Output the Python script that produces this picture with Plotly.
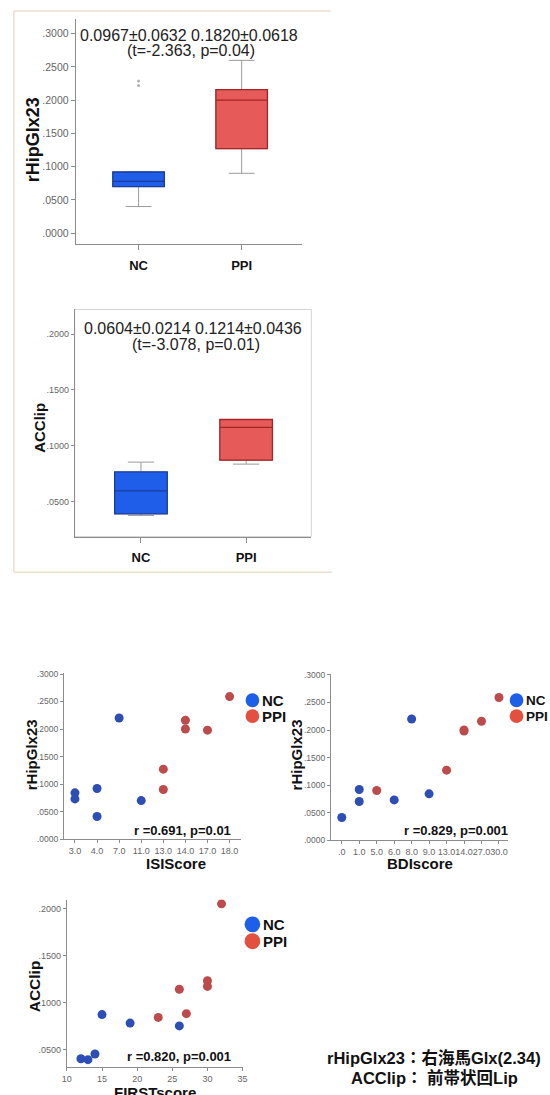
import plotly.graph_objects as go

# ---------------- data ----------------
box_categories = ["NC", "PPI"]

glx_q1 = [0.070, 0.127]
glx_median = [0.078, 0.200]
glx_q3 = [0.092, 0.216]
glx_low = [0.040, 0.090]
glx_high = [0.092, 0.260]
glx_nc_outliers = [0.222, 0.229]

lip_q1 = [0.0393, 0.0872]
lip_median = [0.0598, 0.1165]
lip_q3 = [0.0767, 0.1236]
lip_low = [0.0378, 0.0837]
lip_high = [0.0855, 0.1236]

glx_ticks = [0.0, 0.05, 0.10, 0.15, 0.20, 0.25, 0.30]
glx_ticktext = [".0000", ".0500", ".1000", ".1500", ".2000", ".2500", ".3000"]
lip_ticks = [0.05, 0.10, 0.15, 0.20]
lip_ticktext = [".0500", ".1000", ".1500", ".2000"]

isi_categories = ["3.0", "4.0", "7.0", "11.0", "13.0", "14.0", "17.0", "18.0"]
isi_nc_x = ["3.0", "3.0", "4.0", "4.0", "7.0", "11.0"]
isi_nc_y = [0.084, 0.073, 0.092, 0.041, 0.220, 0.070]
isi_ppi_x = ["13.0", "13.0", "14.0", "14.0", "17.0", "18.0"]
isi_ppi_y = [0.127, 0.090, 0.216, 0.200, 0.198, 0.259]

bdi_categories = [".0", "1.0", "5.0", "6.0", "8.0", "9.0", "13.0", "14.0", "27.0", "30.0"]
bdi_nc_x = [".0", "1.0", "1.0", "6.0", "8.0", "9.0"]
bdi_nc_y = [0.041, 0.092, 0.070, 0.073, 0.220, 0.084]
bdi_ppi_x = ["5.0", "13.0", "14.0", "14.0", "27.0", "30.0"]
bdi_ppi_y = [0.090, 0.127, 0.200, 0.198, 0.216, 0.259]

first_nc_x = [12, 13, 14, 15, 19, 26]
first_nc_y = [0.040, 0.039, 0.045, 0.087, 0.078, 0.075]
first_ppi_x = [23, 26, 27, 30, 30, 32]
first_ppi_y = [0.084, 0.114, 0.088, 0.123, 0.117, 0.205]
first_ticks = [10, 15, 20, 25, 30, 35]

box1_stats = ["0.0967\u00b10.0632 0.1820\u00b10.0618", "(t=-2.363, p=0.04)"]
box2_stats = ["0.0604\u00b10.0214 0.1214\u00b10.0436", "(t=-3.078, p=0.01)"]
corr_texts = ["r =0.691, p=0.01", "r =0.829, p=0.001", "r =0.820, p=0.001"]
note_lines = ["rHipGlx23\uff1a\u53f3\u6d77\u99acGlx(2.34)", "ACClip\uff1a \u524d\u5e2f\u72b6\u56deLip"]

# ---------------- style ----------------
W, H = 550, 1095
FONT = "Liberation Sans, Arial, Noto Sans CJK JP, sans-serif"
box_fill = ["#1f5ee8", "#e65a5a"]
box_edge = ["#1a3c9c", "#a52525"]
whisker_gray = "#9a9a9a"
dot_blue = "#2d4fb5"
dot_red = "#bd4b4b"
leg_blue = "#1d5fe6"
leg_red = "#e3503f"
axis_gray = "#8c8c8c"
tick_gray = "#666666"


def X(p):
    return p / W


def Y(p):
    return 1 - p / H


fig = go.Figure()

# ---------- box panels ----------
panels = [
    ("x", "y", glx_q1, glx_median, glx_q3, glx_low, glx_high),
    ("x2", "y2", lip_q1, lip_median, lip_q3, lip_low, lip_high),
]
for xa, ya, q1, med, q3, lo, hi in panels:
    for i in range(len(box_categories)):
        fig.add_trace(go.Box(
            x=[i], q1=[q1[i]], median=[med[i]], q3=[q3[i]],
            lowerfence=[lo[i]], upperfence=[hi[i]],
            width=0.5, whiskerwidth=0.5, fillcolor=box_fill[i],
            line=dict(color=whisker_gray, width=1),
            xaxis=xa, yaxis=ya, showlegend=False, hoverinfo="skip"))
        fig.add_trace(go.Box(
            x=[i], q1=[q1[i]], median=[med[i]], q3=[q3[i]],
            lowerfence=[q1[i]], upperfence=[q3[i]],
            width=0.5, whiskerwidth=0, fillcolor=box_fill[i],
            line=dict(color=box_edge[i], width=1.3),
            xaxis=xa, yaxis=ya, showlegend=False, hoverinfo="skip"))

fig.add_trace(go.Scatter(
    x=[0] * len(glx_nc_outliers), y=glx_nc_outliers, mode="markers",
    marker=dict(size=3, color="#b0b0b0"), xaxis="x", yaxis="y",
    showlegend=False, hoverinfo="skip"))

# ---------- scatter panels ----------
scatters = [
    ("x3", "y3", isi_nc_x, isi_nc_y, isi_ppi_x, isi_ppi_y),
    ("x4", "y4", bdi_nc_x, bdi_nc_y, bdi_ppi_x, bdi_ppi_y),
    ("x5", "y5", first_nc_x, first_nc_y, first_ppi_x, first_ppi_y),
]
for xa, ya, nx, ny, rx, ry in scatters:
    fig.add_trace(go.Scatter(x=nx, y=ny, mode="markers",
                             marker=dict(size=9, color=dot_blue),
                             xaxis=xa, yaxis=ya, showlegend=False, hoverinfo="skip"))
    fig.add_trace(go.Scatter(x=rx, y=ry, mode="markers",
                             marker=dict(size=9, color=dot_red),
                             xaxis=xa, yaxis=ya, showlegend=False, hoverinfo="skip"))

# ---------- axes ----------
common = dict(showline=True, linecolor=axis_gray, linewidth=1, ticks="outside",
              tickcolor=axis_gray, showgrid=False, zeroline=False, fixedrange=True,
              tickangle=0)

layout_axes = dict(
    xaxis=dict(common, domain=[X(72), X(303)], range=[-0.61, 1.59], anchor="y",
               tickvals=[0, 1], ticktext=box_categories, ticklen=5,
               tickfont=dict(family=FONT, size=13, color="#111", weight="bold"),
               ticklabelstandoff=4),
    yaxis=dict(common, domain=[Y(242), Y(15)], range=[-0.0164, 0.3224], anchor="x",
               tickvals=glx_ticks, ticktext=glx_ticktext, ticklen=4,
               tickfont=dict(family=FONT, size=10.5, color=tick_gray)),
    xaxis2=dict(common, domain=[X(71), X(312)], range=[-0.63, 1.62], anchor="y2",
                tickvals=[0, 1], ticktext=box_categories, ticklen=5,
                tickfont=dict(family=FONT, size=13, color="#111", weight="bold"),
                ticklabelstandoff=4),
    yaxis2=dict(common, domain=[Y(537), Y(308)], range=[0.0189, 0.222], anchor="x2",
                tickvals=lip_ticks, ticktext=lip_ticktext, ticklen=3,
                tickfont=dict(family=FONT, size=9, color=tick_gray)),
    xaxis3=dict(common, domain=[X(60), X(240)], type="category", range=[-0.5, 7.5],
                categoryorder="array", categoryarray=isi_categories,
                tickmode="array", tickvals=isi_categories, ticktext=isi_categories,
                ticklen=3, anchor="y3",
                tickfont=dict(family=FONT, size=9, color=tick_gray)),
    yaxis3=dict(common, domain=[Y(842), Y(675)], range=[0, 0.301], anchor="x3",
                tickvals=glx_ticks, ticktext=glx_ticktext, ticklen=3,
                tickfont=dict(family=FONT, size=8.5, color=tick_gray)),
    xaxis4=dict(common, domain=[X(332), X(512)], type="category", range=[-0.62, 9.5],
                categoryorder="array", categoryarray=bdi_categories,
                tickmode="array", tickvals=bdi_categories, ticktext=bdi_categories,
                ticklen=3, anchor="y4",
                tickfont=dict(family=FONT, size=9, color=tick_gray)),
    yaxis4=dict(common, domain=[Y(843), Y(676)], range=[0, 0.301], anchor="x4",
                tickvals=glx_ticks, ticktext=glx_ticktext, ticklen=3,
                tickfont=dict(family=FONT, size=8.5, color=tick_gray)),
    xaxis5=dict(common, domain=[X(63), X(242)], range=[10, 35], anchor="y5",
                tickvals=first_ticks, ticklen=3,
                tickfont=dict(family=FONT, size=9, color=tick_gray)),
    yaxis5=dict(common, domain=[Y(1072), Y(903)], range=[0.031, 0.2095], anchor="x5",
                tickvals=lip_ticks, ticktext=lip_ticktext, ticklen=3,
                tickfont=dict(family=FONT, size=9, color=tick_gray)),
)

# ---------- annotations ----------
ann = []


def text(x, y, s, size, bold=False, angle=0, color="#111", xanchor="center", yanchor="middle"):
    ann.append(dict(x=X(x), y=Y(y), xref="paper", yref="paper", text=s, showarrow=False,
                    textangle=angle, xanchor=xanchor, yanchor=yanchor,
                    font=dict(family=FONT, size=size, color=color,
                              weight="bold" if bold else "normal")))


text(187, 32, box1_stats[0], 16, color="#222")
text(189, 47, box1_stats[1], 16, color="#222")
text(191, 327, box2_stats[0], 16, color="#222")
text(195, 343, box2_stats[1], 16, color="#222")

text(28, 137, "rHipGlx23", 18, bold=True, angle=-90)
text(35, 427, "ACClip", 15, bold=True, angle=-90)
text(27, 757, "rHipGlx23", 15, bold=True, angle=-90)
text(297, 757, "rHipGlx23", 15, bold=True, angle=-90)
text(30, 990, "ACClip", 15.5, bold=True, angle=-90)

text(174, 867, "ISIScore", 15, bold=True)
text(423, 867, "BDIscore", 15, bold=True)
text(153, 1087, "FIRSTscore", 15, bold=True, yanchor="top")

text(181, 833, corr_texts[0], 13, bold=True)
text(459, 833, corr_texts[1], 13, bold=True)
text(177, 1061, corr_texts[2], 13, bold=True)

text(437, 1063, note_lines[0], 16.5, bold=True)
text(437, 1083, note_lines[1], 16.5, bold=True)

# legends (circle + label)
shapes = []
legend_spots = [(252, 702, 718, 7, 15), (521, 702, 718, 7, 13.5), (252, 928, 945, 8, 15)]
for cx, yb, yr, r, fs in legend_spots:
    for cy, col, lab in [(yb, leg_blue, "NC"), (yr, leg_red, "PPI")]:
        shapes.append(dict(type="circle", xref="paper", yref="paper",
                           x0=X(cx - r), x1=X(cx + r), y0=Y(cy + r), y1=Y(cy - r),
                           fillcolor=col, line=dict(width=0)))
        text(cx + r + 0.5, cy, lab, fs, bold=True, xanchor="left")

# box-2 frame
shapes.append(dict(type="rect", xref="x2 domain", yref="y2 domain", x0=0, x1=1, y0=0, y1=1,
                   line=dict(color="#d4d4d4", width=1), layer="below"))
# beige outer border (left, top, bottom)
border = "#eadfcf"
for (a, b, c, d) in [(9, 7, 332, 7), (9, 7, 9, 573), (9, 573, 333, 573)]:
    shapes.append(dict(type="line", xref="paper", yref="paper",
                       x0=X(a), y0=Y(b), x1=X(c), y1=Y(d),
                       line=dict(color=border, width=1.5)))

fig.update_layout(
    width=W, height=H, margin=dict(l=0, r=0, t=0, b=0),
    paper_bgcolor="white", plot_bgcolor="white",
    showlegend=False, boxmode="overlay",
    annotations=ann, shapes=shapes,
    font=dict(family=FONT),
    **layout_axes,
)

fig.write_html("out.html", config={"displayModeBar": False},
               post_script="document.body.style.margin='0';document.body.style.overflow='hidden';")
